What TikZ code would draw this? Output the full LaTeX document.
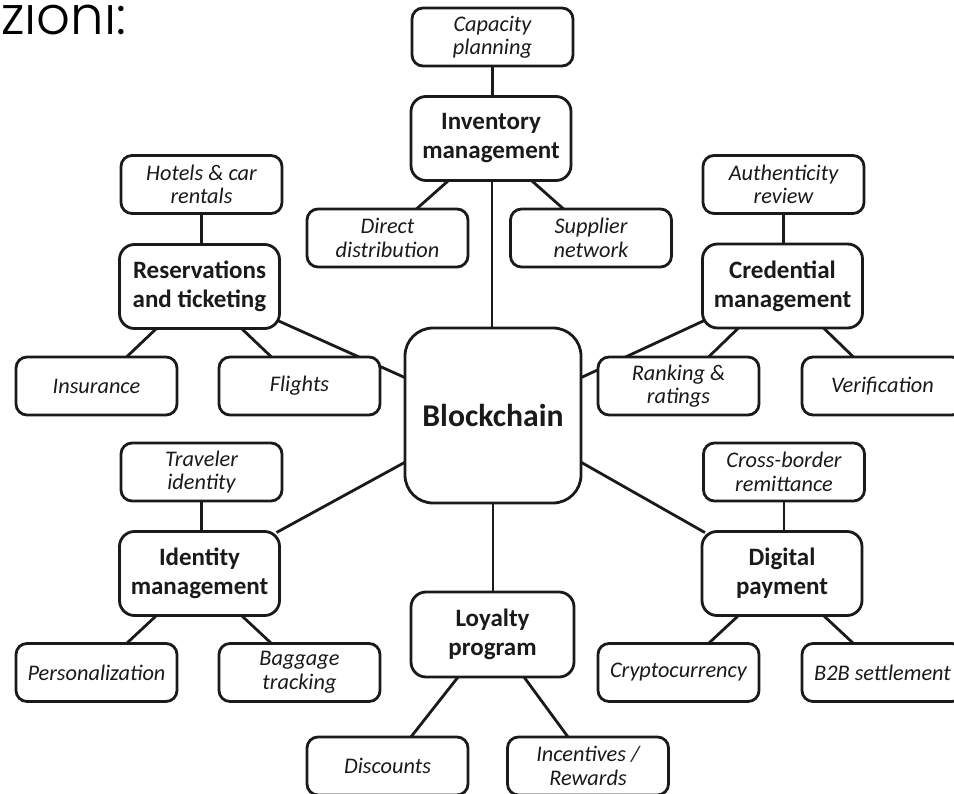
\documentclass[tikz,border=0pt]{standalone}
\usepackage{fontspec}
\setmainfont{Carlito}
\IfFontExistsTF{Poppins Light}{\newfontfamily\zfont{Poppins Light}}{\newfontfamily\zfont{Poppins}}
\usetikzlibrary{backgrounds}
\definecolor{ink}{HTML}{1A1A1A}
\tikzset{
  leaf/.style={draw=ink, line width=2.8pt, fill=white, rounded corners=11pt,
    minimum width=161pt, minimum height=58pt, inner sep=0pt, align=center,
    text=ink, font=\fontsize{22.3}{23.5}\selectfont\itshape},
  mainbox/.style={draw=ink, line width=2.8pt, fill=white, rounded corners=15pt,
    minimum width=160pt, minimum height=84pt, inner sep=0pt, align=center,
    text=ink, font=\fontsize{25}{29}\selectfont\bfseries},
  hub/.style={draw=ink, line width=2.8pt, fill=white, rounded corners=28pt,
    minimum width=176pt, minimum height=175pt, inner sep=0pt, align=center,
    text=ink, font=\fontsize{31.7}{35}\selectfont\bfseries},
  link/.style={draw=ink, line width=2.8pt, shorten <=-5pt, shorten >=-5pt}
}
\begin{document}
\begin{tikzpicture}[x=1pt,y=-1pt]
\useasboundingbox (0,0) rectangle (954,794);

\node[anchor=base west, inner sep=0pt, text=black, font=\zfont\fontsize{53}{56}\selectfont] (title) at (1,35) {zioni:};

% nodes
\node[leaf] (cap) at (492.5,37) {Capacity\\planning};
\node[mainbox] (inv) at (491,138.5) {Inventory\\management};
\node[leaf] (dir) at (387.5,238) {Direct\\distribution};
\node[leaf] (sup) at (591,238) {Supplier\\network};

\node[leaf] (hot) at (201.5,184.5) {Hotels \& car\\rentals};
\node[mainbox] (res) at (199.5,286.5) {Reservations\\and ticketing};
\node[leaf] (ins) at (96.5,386) {Insurance};
\node[leaf] (fli) at (299.5,386) {Flights};

\node[leaf] (aut) at (783.5,184.5) {Authenticity\\review};
\node[mainbox] (cred) at (782.5,286) {Credential\\management};
\node[leaf] (rank) at (678.5,386) {Ranking \&\\ratings};
\node[leaf] (ver) at (882.5,386) {Verification};

\node[hub] (bc) at (493,415.5) {Blockchain};

\node[leaf] (trav) at (201.5,472) {Traveler\\identity};
\node[mainbox] (idm) at (199.5,573.5) {Identity\\management};
\node[leaf] (pers) at (96.5,672.5) {Personalization};
\node[leaf] (bag) at (299.5,672.5) {Baggage\\tracking};

\node[leaf] (cross) at (784,472) {Cross-border\\remittance};
\node[mainbox] (dig) at (782,573.5) {Digital\\payment};
\node[leaf] (cry) at (678.5,672.5) {Cryptocurrency};
\node[leaf] (b2b) at (882.5,672.5) {B2B settlement};

\node[mainbox, minimum width=163pt, minimum height=85pt] (loy) at (492.5,634.5) {Loyalty\\program};
\node[leaf] (dis) at (387.5,766) {Discounts};
\node[leaf] (inc) at (588,766) {Incentives /\\Rewards};

% connectors
\begin{scope}[on background layer]
\draw[link] (cap.south) -- (cap.south |- inv.north);
\draw[link] ([xshift=-44pt]inv.south) -- ([xshift=30.5pt]dir.north);
\draw[link] ([xshift=42pt]inv.south) -- ([xshift=-29pt]sup.north);
\draw[link] ([xshift=1pt]inv.south) -- ([xshift=1pt]inv.south |- bc.north);

\draw[link] (hot.south) -- (hot.south |- res.north);
\draw[link] ([xshift=-44.5pt]res.south) -- ([xshift=31.5pt]ins.north);
\draw[link] ([xshift=43.5pt]res.south) -- ([xshift=-29.5pt]fli.north);
\draw[link] ([yshift=-35.5pt]res.east) -- ([yshift=38.5pt]bc.west);

\draw[link] (aut.south) -- (aut.south |- cred.north);
\draw[link] ([xshift=-45.5pt]cred.south) -- ([xshift=31.5pt]rank.north);
\draw[link] ([xshift=42.5pt]cred.south) -- ([xshift=-30.5pt]ver.north);
\draw[link] ([yshift=-36pt]cred.west) -- ([yshift=38.5pt]bc.east);

\draw[link] ([yshift=-47.5pt]bc.west) -- (idm.north east);
\draw[link] ([yshift=-47.5pt]bc.east) -- (dig.north west);
\draw[link] (bc.south) -- (bc.south |- loy.north);

\draw[link] (trav.south) -- (trav.south |- idm.north);
\draw[link] ([xshift=-44.5pt]idm.south) -- ([xshift=31.5pt]pers.north);
\draw[link] ([xshift=43.5pt]idm.south) -- ([xshift=-29.5pt]bag.north);

\draw[link] (cross.south) -- (cross.south |- dig.north);
\draw[link] ([xshift=-45pt]dig.south) -- ([xshift=31.5pt]cry.north);
\draw[link] ([xshift=43pt]dig.south) -- ([xshift=-30.5pt]b2b.north);

\draw[link] ([xshift=-35.5pt]loy.south) -- ([xshift=24.5pt]dis.north);
\draw[link] ([xshift=32.5pt]loy.south) -- ([xshift=-21pt]inc.north);
\end{scope}
\end{tikzpicture}
\end{document}
